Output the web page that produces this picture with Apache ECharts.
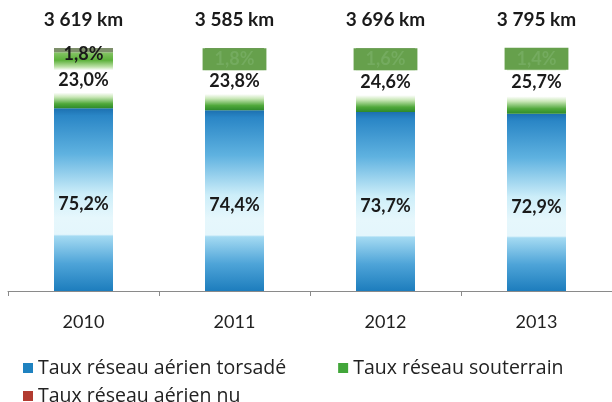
<!DOCTYPE html>
<html>
<head>
<meta charset="utf-8">
<script src="https://cdn.jsdelivr.net/npm/echarts@6/dist/echarts.min.js"></script>
<style>
  html, body { margin: 0; padding: 0; background: #fff; }
  #chart { width: 612px; height: 402px; }
</style>
</head>
<body>
<div id="chart"></div>
<script>
// données du graphique
const years = ['2010', '2011', '2012', '2013']
const totals = ['3 619 km', '3 585 km', '3 696 km', '3 795 km']
const torsade = [75.2, 74.4, 73.7, 72.9]
const souterrain = [23.0, 23.8, 24.6, 25.7]
const nu = [1.8, 1.8, 1.6, 1.4]

const names = ['Taux réseau aérien torsadé', 'Taux réseau souterrain', 'Taux réseau aérien nu']
const FONT = 'Lato, "Open Sans", sans-serif'
const LEGEND_FONT = '"Open Sans", sans-serif'

// format "75,2%"
const pct = (v) => v.toFixed(1).replace('.', ',') + '%'

const grad = (stops) =>
  new echarts.graphic.LinearGradient(0, 0, 0, 1, stops.map(([o, c]) => ({ offset: o, color: c })))

const blueFill = grad([
  [0, '#1c70b0'], [0.04, '#2a86c6'], [0.25, '#5fb2e0'], [0.47, '#cdeef9'],
  [0.6, '#e6f7fc'], [0.69, '#e4f6fc'], [0.7, '#a4daf2'], [0.85, '#4ea4d8'], [1, '#1d7dbd'],
])
const greenFill = grad([
  [0, '#86c466'], [0.14, '#5cb13a'], [0.26, '#bfe2aa'], [0.32, '#ffffff'],
  [0.72, '#ffffff'], [0.8, '#c9e7b7'], [0.92, '#4fa83a'], [1, '#2e8a2a'],
])

const labelBase = {
  show: true,
  position: 'inside',
  fontFamily: FONT,
  fontWeight: 'bold',
  fontSize: 18,
  color: '#1a1a1a',
  formatter: (p) => pct(p.value),
}

// le premier label "1,8%" est lisible, les autres sont recouverts d'un pavé vert
const nuData = nu.map((v, i) =>
  i === 0
    ? v
    : {
        value: v,
        label: {
          backgroundColor: '#66a04c',
          color: '#74ab5f',
          lineHeight: 14,
          padding: [0, 12, 8, 12],
          offset: [0, 9],
        },
      }
)

const chart = echarts.init(document.getElementById('chart'))

chart.setOption({
  animation: false,
  grid: { left: 8, right: -3, top: 48, bottom: 111 },
  xAxis: [
    {
      type: 'category',
      data: years,
      axisLine: { lineStyle: { color: '#8a8a8a', width: 1 } },
      axisTick: { show: true, length: 5, lineStyle: { color: '#8a8a8a' } },
      axisLabel: { fontFamily: FONT, fontSize: 18, color: '#222', margin: 22 },
    },
    {
      type: 'category',
      position: 'top',
      data: totals,
      axisLine: { show: false },
      axisTick: { show: false },
      axisLabel: { fontFamily: FONT, fontSize: 19, fontWeight: 'bold', color: '#1a1a1a', margin: 19 },
    },
  ],
  yAxis: { type: 'value', min: 0, max: 100, show: false },
  legend: [
    {
      left: 18,
      top: 353,
      itemGap: 52,
      itemWidth: 10,
      itemHeight: 10,
      icon: 'rect',
      textStyle: { fontFamily: LEGEND_FONT, fontSize: 19.5, color: '#222' },
      data: [
        { name: names[0], itemStyle: { color: '#1f82c0' } },
        { name: names[1], itemStyle: { color: '#42a63a' } },
      ],
    },
    {
      left: 18,
      top: 381,
      itemWidth: 10,
      itemHeight: 10,
      icon: 'rect',
      textStyle: { fontFamily: LEGEND_FONT, fontSize: 19.5, color: '#222' },
      data: [{ name: names[2], itemStyle: { color: '#b23b30' } }],
    },
  ],
  series: [
    {
      name: names[0],
      type: 'bar',
      stack: 'total',
      barWidth: 59,
      itemStyle: { color: blueFill },
      label: { ...labelBase, offset: [0, 5] },
      data: torsade,
    },
    {
      name: names[1],
      type: 'bar',
      stack: 'total',
      barWidth: 59,
      itemStyle: { color: greenFill },
      label: labelBase,
      data: souterrain,
    },
    {
      name: names[2],
      type: 'bar',
      stack: 'total',
      barWidth: 59,
      itemStyle: { color: '#7d8f6a' },
      label: { ...labelBase, offset: [0, 4] },
      data: nuData,
    },
  ],
})
</script>
</body>
</html>
